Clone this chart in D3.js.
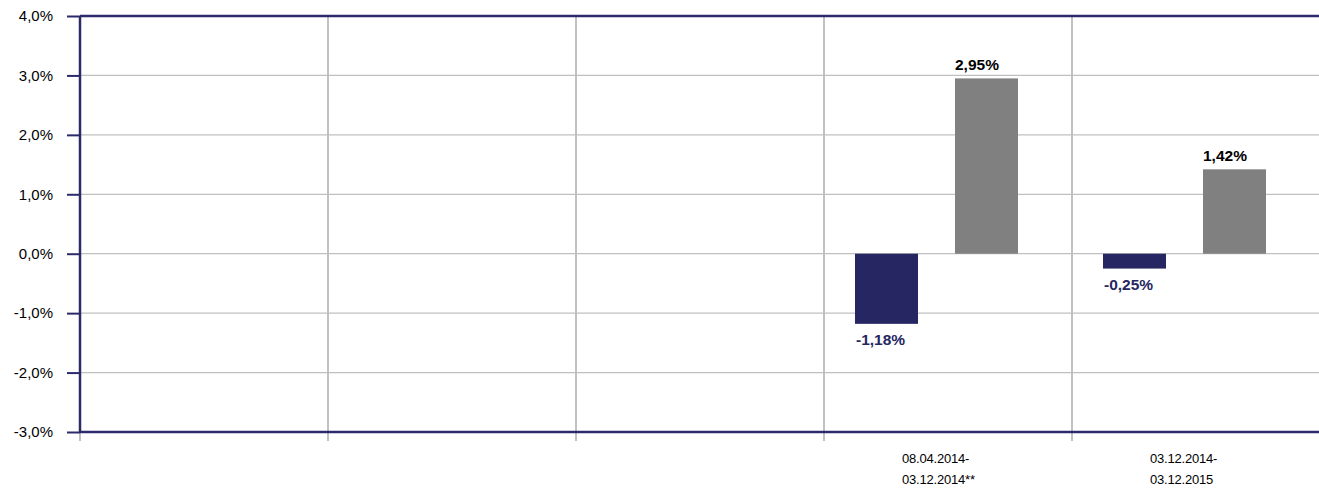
<!DOCTYPE html>
<meta charset="utf-8">
<html>
<head>
    <title>Performance</title>
</head>
<style>
    body { margin: 0; background: #fff; overflow: hidden; }
    text { font-family: 'Liberation Sans', Arial, sans-serif; }
    .ytick { font-size: 15px; fill: #000; }
    .xlabel { font-size: 13px; fill: #000; letter-spacing: -0.2px; }
    .value { font-size: 15.5px; font-weight: bold; }
</style>
<body>
    <svg id="chart" width="1319" height="488"></svg>

    <script src="https://d3js.org/d3.v7.min.js"></script>
    <script>
        // data
        const categories = ["c1", "c2", "c3", "c4", "c5"];
        const categoryLabels = [[], [], [], ["08.04.2014-", "03.12.2014**"], ["03.12.2014-", "03.12.2015"]];
        const seriesA = [null, null, null, -1.18, -0.25];   // fund (navy)
        const seriesB = [null, null, null, 2.95, 1.42];     // benchmark (grey)
        const yTicks = [-3, -2, -1, 0, 1, 2, 3, 4];

        const navy = "#262662";
        const grey = "#808080";
        const axisColor = "#2b2b6b";
        const gridColor = "#c0c0c0";

        const svg = d3.select("#chart");
        const plotLeft = 80, plotRight = 1320, plotTop = 16, plotBottom = 432;

        const x = d3.scaleBand().domain(categories).range([plotLeft, plotRight]);
        const inner = d3.scaleBand().domain(["a", "b"]).range([31, 194]).paddingInner(0.37);
        const y = d3.scaleLinear().domain([-3, 4]).range([plotBottom, plotTop]);

        const fmt = v => v.toFixed(2).replace(".", ",") + "%";

        // horizontal grid
        svg.append("g").selectAll("line")
            .data(yTicks.filter(t => t > -3 && t < 4))
            .join("line")
            .attr("x1", plotLeft).attr("x2", plotRight)
            .attr("y1", d => y(d)).attr("y2", d => y(d))
            .attr("stroke", gridColor).attr("stroke-width", 1.2);

        // vertical grid (category boundaries)
        svg.append("g").selectAll("line")
            .data(categories)
            .join("line")
            .attr("x1", d => x(d)).attr("x2", d => x(d))
            .attr("y1", plotTop).attr("y2", plotBottom + 9)
            .attr("stroke", gridColor).attr("stroke-width", 2);

        // bars
        const bars = svg.append("g");
        categories.forEach((c, i) => {
            if (seriesA[i] != null) {
                const v = seriesA[i];
                bars.append("rect")
                    .attr("x", x(c) + inner("a"))
                    .attr("width", inner.bandwidth())
                    .attr("y", y(Math.max(0, v)))
                    .attr("height", Math.abs(y(v) - y(0)))
                    .attr("fill", navy);
                bars.append("text")
                    .attr("class", "value")
                    .attr("x", x(c) + inner("a") + 1)
                    .attr("y", y(v) + 21)
                    .attr("fill", navy)
                    .text(fmt(v));
            }
            if (seriesB[i] != null) {
                const v = seriesB[i];
                bars.append("rect")
                    .attr("x", x(c) + inner("b"))
                    .attr("width", inner.bandwidth())
                    .attr("y", y(Math.max(0, v)))
                    .attr("height", Math.abs(y(v) - y(0)))
                    .attr("fill", grey);
                bars.append("text")
                    .attr("class", "value")
                    .attr("x", x(c) + inner("b"))
                    .attr("y", y(v) - 8)
                    .attr("fill", "#000")
                    .text(fmt(v));
            }
        });

        // frame: top and bottom dark lines, left axis
        svg.append("line")
            .attr("x1", plotLeft).attr("x2", plotRight).attr("y1", plotTop).attr("y2", plotTop)
            .attr("stroke", axisColor).attr("stroke-width", 2.5);
        svg.append("line")
            .attr("x1", plotLeft).attr("x2", plotRight).attr("y1", plotBottom).attr("y2", plotBottom)
            .attr("stroke", axisColor).attr("stroke-width", 2.5);
        svg.append("line")
            .attr("x1", plotLeft).attr("x2", plotLeft).attr("y1", plotTop).attr("y2", plotBottom)
            .attr("stroke", axisColor).attr("stroke-width", 2.5);

        // y axis ticks + labels
        const yAxis = svg.append("g").attr("transform", "translate(" + plotLeft + ",0)")
            .call(d3.axisLeft(y).tickValues(yTicks).tickSize(13).tickPadding(14)
                .tickFormat(d => d.toFixed(1).replace(".", ",") + "%"));
        yAxis.select(".domain").remove();
        yAxis.attr("font-size", null).attr("font-family", null);
        yAxis.selectAll(".tick line").attr("stroke", axisColor).attr("stroke-width", 2);
        yAxis.selectAll(".tick text").attr("class", "ytick");

        // x labels
        const xl = svg.append("g");
        categories.forEach((c, i) => {
            categoryLabels[i].forEach((line, j) => {
                xl.append("text")
                    .attr("class", "xlabel")
                    .attr("x", x(c) + 78)
                    .attr("y", 463 + j * 21)
                    .text(line);
            });
        });
    </script>
</body>
</html>
